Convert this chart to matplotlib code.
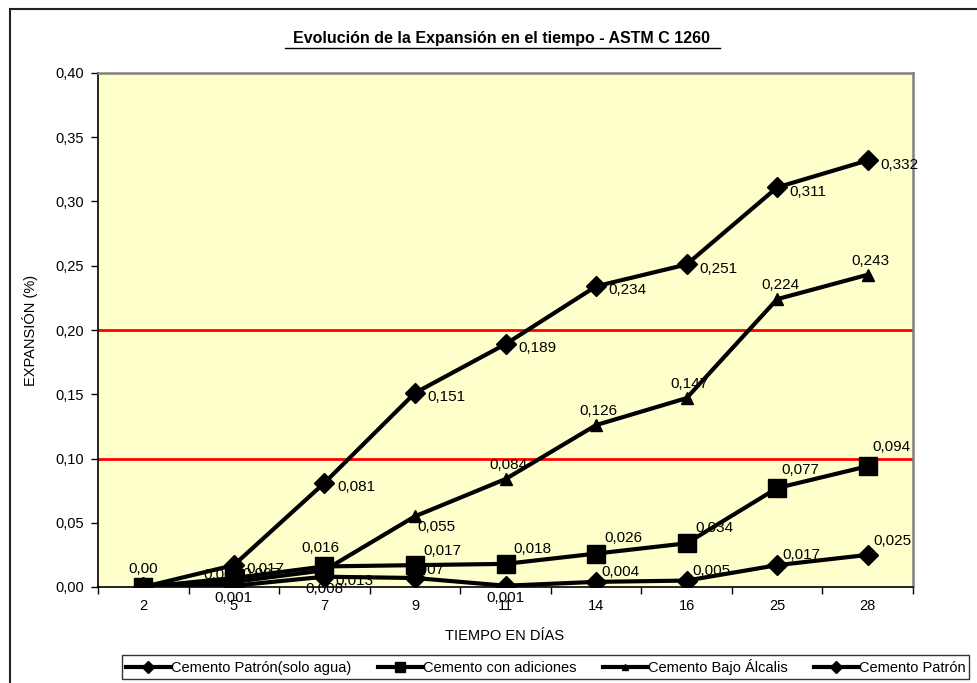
import matplotlib
matplotlib.use("Agg")
import matplotlib.pyplot as plt
from matplotlib.patches import Rectangle
from matplotlib.ticker import FixedLocator, FuncFormatter

plt.rcParams['font.family'] = ['Liberation Sans', 'DejaVu Sans']

dias = ["2", "5", "7", "9", "11", "14", "16", "25", "28"]
solo_agua = [0.000, 0.001, 0.008, 0.007, 0.001, 0.004, 0.005, 0.017, 0.025]
adiciones = [0.000, 0.007, 0.016, 0.017, 0.018, 0.026, 0.034, 0.077, 0.094]
bajo_alcalis = [0.000, 0.004, 0.013, 0.055, 0.084, 0.126, 0.147, 0.224, 0.243]
patron = [0.000, 0.017, 0.081, 0.151, 0.189, 0.234, 0.251, 0.311, 0.332]
limites = [0.10, 0.20]

names = ["Cemento Patrón(solo agua)", "Cemento con adiciones",
         "Cemento Bajo Álcalis", "Cemento Patrón"]

W, H = 978, 683
fig = plt.figure(figsize=(W / 100, H / 100), dpi=100)
fig.patch.set_facecolor("white")

# outer chart border
fig.add_artist(Rectangle((10 / W, -0.02), (W + 20) / W, (H - 9) / H + 0.02,
                         transform=fig.transFigure, fill=False,
                         edgecolor="#222222", linewidth=1.5, clip_on=False))

left, right, top, bottom = 98, 913, 73, 587
ax = fig.add_axes([left / W, 1 - bottom / H, (right - left) / W, (bottom - top) / H])
ax.set_facecolor("#FFFFCC")

x = list(range(len(dias)))
lw = 3.0
l1, = ax.plot(x, solo_agua, color="black", lw=lw, marker="D", ms=10, zorder=3)
l2, = ax.plot(x, adiciones, color="black", lw=lw, marker="s", ms=13, zorder=3)
l3, = ax.plot(x, bajo_alcalis, color="black", lw=lw, marker="^", ms=8, zorder=3)
l4, = ax.plot(x, patron, color="black", lw=lw, marker="D", ms=10.5, zorder=3)

for v in limites:
    ax.axhline(v, color="red", lw=2, zorder=2)

ax.set_xlim(-0.5, len(dias) - 0.5)
ax.set_ylim(0, 0.40)
ax.set_xticks(x)
ax.set_xticklabels(dias)
ax.xaxis.set_minor_locator(FixedLocator([i + 0.5 for i in range(-1, len(dias))]))
ax.tick_params(axis="x", which="major", length=0, pad=8.5, labelsize=10.5)
ax.tick_params(axis="x", which="minor", length=5, direction="out", width=1)
ax.set_yticks([i * 0.05 for i in range(9)])
ax.yaxis.set_major_formatter(FuncFormatter(lambda v, p: f"{v:.2f}".replace(".", ",")))
ax.tick_params(axis="y", length=5, direction="out", width=1, labelsize=10.5, pad=5)
for s in ["left", "bottom"]:
    ax.spines[s].set_color("black")
    ax.spines[s].set_linewidth(1.2)
for s in ["top", "right"]:
    ax.spines[s].set_color("#808080")
    ax.spines[s].set_linewidth(1.8)

fmt = lambda v: f"{v:.3f}".replace(".", ",")
fs = 11

def lab(xi, v, dx, dy, ha="left", va="center", text=None):
    ax.annotate(fmt(v) if text is None else text, (xi, v), xytext=(dx, dy),
                textcoords="offset points", ha=ha, va=va, fontsize=fs, zorder=5)

# Cemento Patrón: right of point
for i in range(1, len(dias)):
    lab(i, patron[i], 9, -3)
# Bajo Álcalis
bajo_off = {1: (-8, 5), 2: (8, -8), 3: (2, -8), 4: (2, 10), 5: (2, 10), 6: (2, 10), 7: (2, 10), 8: (2, 10)}
for i, (dx, dy) in bajo_off.items():
    lab(i, bajo_alcalis[i], dx, dy, ha="left" if i in (2, 3) else "center")
# con adiciones
lab(0, adiciones[0], 0, 13, ha="center", text="0,00")
adic_off = {1: (6, 3), 2: (-3, 13), 3: (6, 10), 4: (6, 11), 5: (6, 11), 6: (6, 11), 7: (3, 13), 8: (3, 14)}
for i, (dx, dy) in adic_off.items():
    lab(i, adiciones[i], dx, dy, ha="center" if i == 2 else "left")
# solo agua
agua_off = {1: (0, -9), 2: (0, -9), 3: (-6, 6), 4: (0, -9), 5: (4, 7), 6: (4, 7), 7: (4, 7), 8: (4, 10)}
for i, (dx, dy) in agua_off.items():
    lab(i, solo_agua[i], dx, dy, ha="center" if dy < 0 else "left")

fig.text(502 / W, 1 - 39 / H,
         "Evolución de la Expansión en el tiempo - ASTM C 1260",
         ha="center", va="center", fontsize=11.5, fontweight="bold")
fig.add_artist(plt.Line2D([285 / W, 720 / W], [1 - 48 / H, 1 - 48 / H],
                          color="black", lw=1.0, transform=fig.transFigure))

fig.text(30 / W, 1 - 330 / H, "EXPANSIÓN (%)", rotation=90, ha="center",
         va="center", fontsize=10.5)
fig.text(505 / W, 1 - 636 / H, "TIEMPO EN DÍAS", ha="center",
         va="center", fontsize=10.5)

leg = fig.legend([l1, l2, l3, l4], names, loc="center",
                 bbox_to_anchor=(546 / W, 1 - 667 / H), ncol=4, frameon=True,
                 fancybox=False, edgecolor="black", fontsize=10.5,
                 handlelength=3.0, handletextpad=0.1, columnspacing=1.8,
                 borderpad=0.25, markerscale=0.6)
leg.get_frame().set_linewidth(1.0)

fig.savefig("out.png", dpi=100)
